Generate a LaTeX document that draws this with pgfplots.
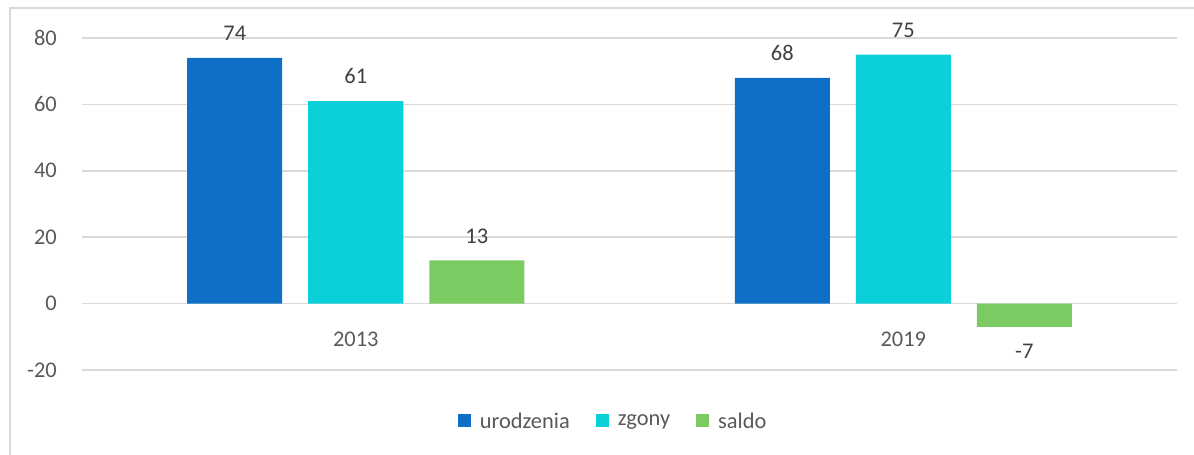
\documentclass[border=0pt]{standalone}
\usepackage{fontspec}
\setmainfont{Carlito}
\usepackage{pgfplots}
\pgfplotsset{compat=1.18}
\definecolor{cBlue}{HTML}{0F6FC6}
\definecolor{cCyan}{HTML}{0BD0D9}
\definecolor{cGreen}{HTML}{7CCA62}
\definecolor{gridc}{HTML}{D9D9D9}
\definecolor{lab}{HTML}{595959}
\definecolor{dlab}{HTML}{404040}
\newcommand{\cf}{\fontsize{22.5}{27}\selectfont}
\begin{document}
\begin{tikzpicture}[x=1bp,y=1bp]
\path[use as bounding box] (-82,-85) rectangle (1112,370);
\draw[gridc, line width=1.5bp] (-72,-90) -- (-72,362) -- (1120,362);
\begin{axis}[
  at={(0bp,0bp)}, anchor=south west,
  scale only axis, width=1095bp, height=332bp,
  ybar, bar width=95bp,
  xmin=-0.5, xmax=1.5, ymin=-20, ymax=80,
  xtick={0,1}, xticklabels={2013,2019},
  ytick={-20,0,20,40,60,80},
  yticklabels={-20,0,20,40,60,80},
  axis line style={draw=none}, tick style={draw=none},
  ymajorgrids, grid style={gridc, line width=1.5bp},
  /pgf/number format/assume math mode=true,
  yticklabel style={font=\cf, text=lab, anchor=east, inner sep=0pt, xshift=-25bp},
  xticklabel style={font=\cf, text=lab, anchor=north, inner sep=0pt, yshift=42.4bp},
  nodes near coords,
  every node near coord/.append style={font=\cf, text=dlab, inner xsep=0pt, inner ysep=17bp},
  clip=false,
  legend columns=3,
  legend style={at={(0.485,-0.1536)}, anchor=center, draw=none, fill=none,
    font=\cf, text=lab, inner sep=0pt,
    /tikz/every odd column/.append style={column sep=7bp},
    /tikz/every even column/.append style={column sep=24bp}},
  legend image code/.code={\fill[#1] (0bp,-6.5bp) rectangle (13bp,6.5bp);},
]
\addplot[fill=cBlue, draw=none, bar shift=-121bp] coordinates {(0,74) (1,68)};
\addlegendentry{urodzenia}
\addplot[fill=cCyan, draw=none, bar shift=0bp] coordinates {(0,61) (1,75)};
\addlegendentry{zgony}
\addplot[fill=cGreen, draw=none, bar shift=121bp] coordinates {(0,13) (1,-7)};
\addlegendentry{saldo}
\end{axis}
\end{tikzpicture}
\end{document}
